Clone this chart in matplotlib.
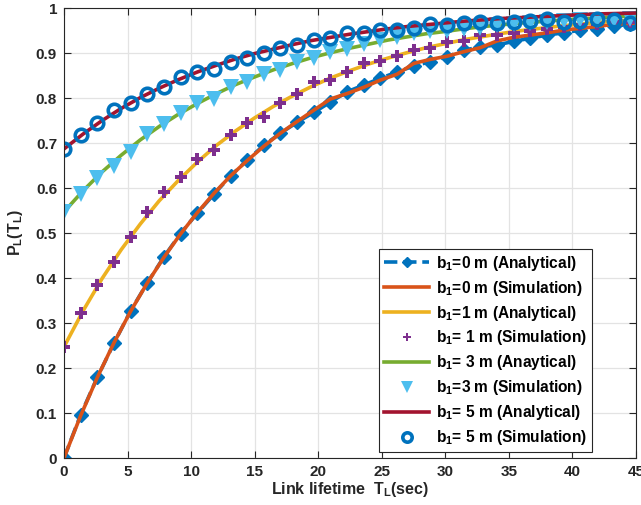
import numpy as np
import matplotlib
matplotlib.use("Agg")
import matplotlib.pyplot as plt
from matplotlib.ticker import FormatStrFormatter

plt.rcParams['font.family'] = ['Liberation Sans', 'DejaVu Sans']
plt.rcParams['font.weight'] = 'bold'
plt.rcParams['mathtext.fontset'] = 'custom'
plt.rcParams['mathtext.rm'] = 'Liberation Sans:bold'
plt.rcParams['mathtext.it'] = 'Liberation Sans:bold'
plt.rcParams['mathtext.bf'] = 'Liberation Sans:bold'

# simulation grid (sec)
t_sim = np.arange(35) * 1.31
# analytical grid (sec)
t_ana = np.arange(31) * 1.5

# b1 = 0 m
b0_ana = [0, 0.096, 0.179, 0.255, 0.327, 0.389, 0.447, 0.499, 0.544, 0.586,
          0.627, 0.662, 0.695, 0.722, 0.746, 0.768, 0.791, 0.814, 0.829, 0.844,
          0.858, 0.871, 0.881, 0.892, 0.906, 0.914, 0.918, 0.926, 0.933, 0.940,
          0.945, 0.951, 0.953, 0.960, 0.964]
b0_sim = [0, 0.094, 0.179, 0.256, 0.326, 0.389, 0.446, 0.498, 0.545, 0.588,
          0.627, 0.661, 0.693, 0.722, 0.748, 0.773, 0.798, 0.810, 0.824, 0.840,
          0.853, 0.877, 0.886, 0.893, 0.903, 0.912, 0.927, 0.935, 0.940, 0.945,
          0.951, 0.955, 0.959, 0.964, 0.966, 0.967]

# b1 = 1 m
b1_ana = [0.247, 0.327, 0.399, 0.463, 0.520, 0.572, 0.617, 0.658, 0.695, 0.727,
          0.756, 0.782, 0.805, 0.826, 0.845, 0.861, 0.876, 0.889, 0.901, 0.912,
          0.921, 0.930, 0.937, 0.944, 0.950, 0.955, 0.960, 0.964, 0.968, 0.971,
          0.974]
b1_sim = [0.247, 0.323, 0.384, 0.436, 0.492, 0.546, 0.592, 0.624, 0.664, 0.684,
          0.719, 0.745, 0.758, 0.790, 0.810, 0.835, 0.840, 0.857, 0.878, 0.882,
          0.893, 0.907, 0.912, 0.924, 0.927, 0.940, 0.940, 0.944, 0.948, 0.953,
          0.958, 0.962, 0.964, 0.968, 0.968]

# b1 = 3 m
b3_ana = [0.547, 0.594, 0.636, 0.673, 0.707, 0.737, 0.764, 0.788, 0.810, 0.830,
          0.847, 0.863, 0.877, 0.890, 0.901, 0.911, 0.920, 0.929, 0.936, 0.943,
          0.948, 0.954, 0.959, 0.963, 0.967, 0.970, 0.973, 0.976, 0.978, 0.981,
          0.983]
b3_sim = [0.547, 0.586, 0.622, 0.650, 0.681, 0.721, 0.742, 0.767, 0.790, 0.799,
          0.824, 0.836, 0.853, 0.862, 0.881, 0.890, 0.903, 0.910, 0.921, 0.929,
          0.935, 0.944, 0.948, 0.948, 0.953, 0.955, 0.962, 0.964, 0.966, 0.968,
          0.971, 0.973, 0.973, 0.974, 0.976]

# b1 = 5 m
b5_ana = [0.687, 0.720, 0.750, 0.777, 0.801, 0.822, 0.841, 0.858, 0.873, 0.887,
          0.899, 0.909, 0.919, 0.928, 0.935, 0.942, 0.948, 0.954, 0.959, 0.963,
          0.967, 0.971, 0.974, 0.977, 0.979, 0.981, 0.983, 0.985, 0.987, 0.988,
          0.989]
b5_sim = [0.687, 0.718, 0.744, 0.773, 0.790, 0.810, 0.824, 0.846, 0.859, 0.865,
          0.880, 0.889, 0.901, 0.912, 0.919, 0.930, 0.934, 0.944, 0.944, 0.951,
          0.951, 0.955, 0.964, 0.962, 0.966, 0.968, 0.966, 0.968, 0.972, 0.975,
          0.968, 0.972, 0.975, 0.973, 0.966]

fig = plt.figure(figsize=(6.41, 5.05), dpi=100)
ax = fig.add_axes([0.0998, 0.093, 0.8925, 0.891])

lw = 2.6
ax.plot(t_sim, b0_ana, '--D', color='#0072BD', lw=lw, ms=7,
        label=r'$b_1$=0 m (Analytical)')
ax.plot(np.append(t_sim, 45.0), b0_sim, '-', color='#D95319', lw=lw,
        label=r'$b_1$=0 m (Simulation)')
ax.plot(t_ana, b1_ana, '-', color='#EDB120', lw=lw,
        label=r'$b_1$=1 m (Analytical)')
ax.plot(t_sim, b1_sim, 'P', color='#7E2F8E', ms=8, mew=0, ls='none',
        label=r'$b_1$= 1 m (Simulation)')
ax.plot(t_ana, b3_ana, '-', color='#77AC30', lw=lw,
        label=r'$b_1$= 3 m (Anaytical)')
ax.plot(t_sim, b3_sim, 'v', color='#4DBEEE', ms=11, mew=0, ls='none',
        label=r'$b_1$=3 m (Simulation)')
ax.plot(t_ana, b5_ana, '-', color='#A2142F', lw=lw,
        label=r'$b_1$= 5 m (Analytical)')
ax.plot(t_sim, b5_sim, 'o', mfc='none', mec='#0072BD', ms=9, mew=2.6, ls='none',
        label=r'$b_1$= 5 m (Simulation)')

ax.set_xlim(0, 45)
ax.set_ylim(0, 1)
ax.set_xticks(np.arange(0, 46, 5))
ax.set_yticks(np.arange(0, 1.01, 0.1))
ax.yaxis.set_major_formatter(FormatStrFormatter('%g'))
ax.grid(True, color='#e3e3e3', lw=0.9)
ax.set_axisbelow(True)
for s in ax.spines.values():
    s.set_color('#262626')
    s.set_linewidth(0.8)
ax.tick_params(direction='in', top=True, right=True, length=5, width=0.8,
               colors='#262626', labelsize=11, pad=5)
for lab in ax.get_xticklabels() + ax.get_yticklabels():
    lab.set_fontweight('bold')

ax.set_xlabel(r'Link lifetime  $T_L$(sec)', fontsize=11.5, fontweight='bold',
              color='#262626', labelpad=1)
ax.set_ylabel(r'$P_L$($T_L$)', fontsize=11.5, fontweight='bold',
              color='#262626', labelpad=8)

leg = ax.legend(loc='lower right', bbox_to_anchor=(0.923, 0.014),
                borderaxespad=0, fontsize=11.2, handlelength=2.9,
                handletextpad=0.45, labelspacing=0.38, borderpad=0.3,
                markerscale=0.75, fancybox=False, framealpha=1,
                edgecolor='#262626')
leg.get_frame().set_linewidth(0.8)
for txt in leg.get_texts():
    txt.set_fontweight('bold')

fig.savefig('out.png', dpi=100)
